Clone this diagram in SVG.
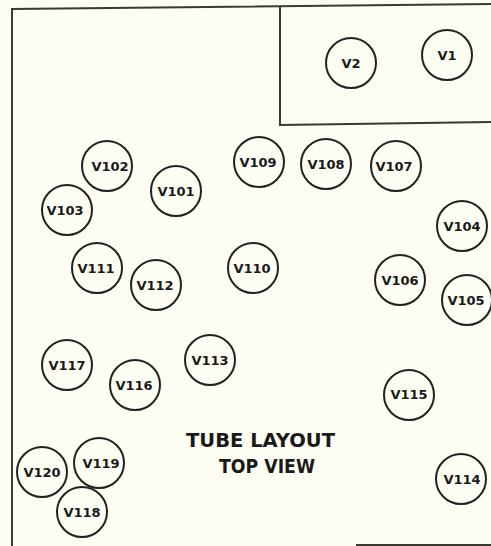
<svg xmlns="http://www.w3.org/2000/svg" width="491" height="546" viewBox="0 0 491 546">
<style>
.tube circle{fill:none;stroke:#222;stroke-width:2}
.tube text{font-family:"DejaVu Sans",sans-serif;font-weight:bold;font-size:13px;fill:#1a1a1a;text-anchor:middle}
.frame{fill:none;stroke:#3a3a30;stroke-width:2}
.title{font-family:"DejaVu Sans",sans-serif;font-weight:bold;font-size:20px;fill:#1a1a1a}
</style>
<rect width="491" height="546" fill="#fdfdf4"/>
<g id="frame">
<path class="frame" d="M12,546 L12,9 L491,4"/>
<path class="frame" d="M280,6 L280,125 L491,122"/>
<path class="frame" d="M356,545 L491,545"/>
</g>
<g id="V2" class="tube"><circle cx="351" cy="63" r="25"/><text x="351" y="68">V2</text></g>
<g id="V1" class="tube"><circle cx="447" cy="55" r="25"/><text x="447" y="60">V1</text></g>
<g id="V102" class="tube"><circle cx="107" cy="166" r="25"/><text x="110" y="171">V102</text></g>
<g id="V103" class="tube"><circle cx="67" cy="210" r="25"/><text x="65" y="215">V103</text></g>
<g id="V101" class="tube"><circle cx="176" cy="191" r="25"/><text x="176" y="196">V101</text></g>
<g id="V109" class="tube"><circle cx="259" cy="162" r="25"/><text x="258" y="167">V109</text></g>
<g id="V108" class="tube"><circle cx="326" cy="164" r="25"/><text x="326" y="169">V108</text></g>
<g id="V107" class="tube"><circle cx="396" cy="166" r="25"/><text x="394" y="171">V107</text></g>
<g id="V104" class="tube"><circle cx="462" cy="226" r="25"/><text x="462" y="231">V104</text></g>
<g id="V111" class="tube"><circle cx="97" cy="268" r="25"/><text x="96" y="273">V111</text></g>
<g id="V112" class="tube"><circle cx="156" cy="285" r="25"/><text x="155" y="290">V112</text></g>
<g id="V110" class="tube"><circle cx="253" cy="268" r="25"/><text x="252" y="273">V110</text></g>
<g id="V106" class="tube"><circle cx="400" cy="280" r="25"/><text x="400" y="285">V106</text></g>
<g id="V105" class="tube"><circle cx="467" cy="300" r="25"/><text x="466" y="305">V105</text></g>
<g id="V117" class="tube"><circle cx="67" cy="365" r="25"/><text x="67" y="370">V117</text></g>
<g id="V116" class="tube"><circle cx="135" cy="385" r="25"/><text x="134" y="390">V116</text></g>
<g id="V113" class="tube"><circle cx="210" cy="360" r="25"/><text x="210" y="365">V113</text></g>
<g id="V115" class="tube"><circle cx="409" cy="395" r="25"/><text x="409" y="399">V115</text></g>
<g id="V120" class="tube"><circle cx="42" cy="472" r="25"/><text x="42" y="477">V120</text></g>
<g id="V119" class="tube"><circle cx="99" cy="463" r="25"/><text x="101" y="468">V119</text></g>
<g id="V118" class="tube"><circle cx="82" cy="512" r="25"/><text x="82" y="517">V118</text></g>
<g id="V114" class="tube"><circle cx="461" cy="479" r="25"/><text x="462" y="484">V114</text></g>
<g id="title">
<text class="title" x="186" y="447" textLength="149" lengthAdjust="spacingAndGlyphs">TUBE LAYOUT</text>
<text class="title" x="219" y="473" textLength="96" lengthAdjust="spacingAndGlyphs">TOP VIEW</text>
</g>
</svg>
